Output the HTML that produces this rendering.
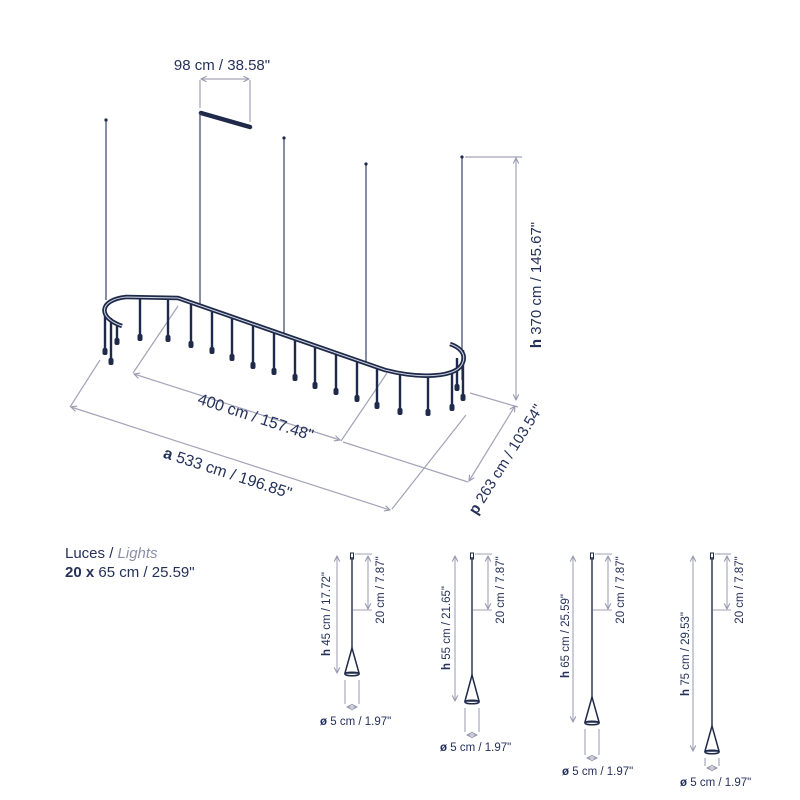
<!DOCTYPE html>
<html><head><meta charset="utf-8"><style>
html,body{margin:0;padding:0;background:#fff;}
svg{display:block;}
text{font-family:"Liberation Sans",sans-serif;fill:#25315a;}
</style></head><body>
<svg width="800" height="800" viewBox="0 0 800 800" xmlns="http://www.w3.org/2000/svg">
<defs>
<marker id="a" viewBox="0 0 10 10" refX="9" refY="5" markerWidth="7" markerHeight="7" orient="auto-start-reverse" markerUnits="userSpaceOnUse">
<path d="M1,1 L9,5 L1,9" fill="none" stroke="#9a9ab0" stroke-width="1.6"/></marker>
</defs>
<g stroke="#a3a3b8" stroke-width="1.2" fill="none">
<line x1="200" y1="80" x2="200" y2="108"/><line x1="250" y1="80" x2="250" y2="122"/>
<line x1="201" y1="79" x2="249" y2="79" marker-start="url(#a)" marker-end="url(#a)"/>
<line x1="465" y1="157" x2="522" y2="157"/>
<line x1="516" y1="158" x2="516" y2="400" marker-start="url(#a)" marker-end="url(#a)"/>
<line x1="178" y1="306" x2="133" y2="373"/><line x1="387" y1="373" x2="341" y2="441"/>
<line x1="134" y1="374" x2="340" y2="440" marker-start="url(#a)" marker-end="url(#a)"/>
<line x1="100" y1="360" x2="70" y2="407"/><line x1="466" y1="415" x2="392" y2="509"/>
<line x1="71" y1="407" x2="390" y2="510" marker-start="url(#a)" marker-end="url(#a)"/>
<line x1="343" y1="442" x2="468" y2="482"/><line x1="470" y1="393" x2="518" y2="407"/>
<line x1="469" y1="481" x2="515" y2="406" marker-start="url(#a)" marker-end="url(#a)"/>
</g>
<line x1="201" y1="113" x2="250" y2="127" stroke="#1f2a4a" stroke-width="4.5" stroke-linecap="round"/>
<g stroke="#3a4466" stroke-width="1.2">
<line x1="106" y1="121" x2="106" y2="300"/><line x1="200" y1="113" x2="200" y2="306"/>
<line x1="284" y1="139" x2="284" y2="335"/><line x1="366" y1="165" x2="366" y2="362"/>
<line x1="462" y1="158" x2="462" y2="380"/>
</g>
<g fill="#1f2a4a"><circle cx="106" cy="120" r="1.6"/><circle cx="284" cy="138" r="1.6"/><circle cx="366" cy="164" r="1.6"/><circle cx="462" cy="157" r="1.6"/></g>
<g stroke="#1f2a4a" stroke-width="2.4">
<line x1="105" y1="312" x2="105" y2="351"/><line x1="111" y1="318" x2="111" y2="361"/><line x1="117" y1="326" x2="117" y2="341"/>
<line x1="140" y1="297" x2="140" y2="337"/><line x1="168" y1="297" x2="168" y2="338"/><line x1="191" y1="303" x2="191" y2="344"/>
<line x1="212" y1="310" x2="212" y2="350"/><line x1="232" y1="317" x2="232" y2="357"/><line x1="253" y1="325" x2="253" y2="365"/>
<line x1="274" y1="332" x2="274" y2="371"/><line x1="295" y1="339" x2="295" y2="377"/><line x1="315" y1="346" x2="315" y2="385"/>
<line x1="336" y1="354" x2="336" y2="391"/><line x1="357" y1="361" x2="357" y2="398"/><line x1="377" y1="368" x2="377" y2="405"/>
<line x1="400" y1="375" x2="400" y2="411"/><line x1="428" y1="376" x2="428" y2="412"/><line x1="452" y1="370" x2="452" y2="407"/>
<line x1="457" y1="358" x2="457" y2="387"/><line x1="463" y1="350" x2="463" y2="397"/>
</g>
<g fill="#1f2a4a">
<rect x="102.5" y="348" width="5" height="7" rx="2"/><rect x="108.5" y="358" width="5" height="7" rx="2"/><rect x="114.5" y="338" width="5" height="7" rx="2"/>
<rect x="137.5" y="334" width="5" height="7" rx="2"/><rect x="165.5" y="335" width="5" height="7" rx="2"/><rect x="188.5" y="341" width="5" height="7" rx="2"/>
<rect x="209.5" y="347" width="5" height="7" rx="2"/><rect x="229.5" y="354" width="5" height="7" rx="2"/><rect x="250.5" y="362" width="5" height="7" rx="2"/>
<rect x="271.5" y="368" width="5" height="7" rx="2"/><rect x="292.5" y="374" width="5" height="7" rx="2"/><rect x="312.5" y="382" width="5" height="7" rx="2"/>
<rect x="333.5" y="388" width="5" height="7" rx="2"/><rect x="354.5" y="395" width="5" height="7" rx="2"/><rect x="374.5" y="402" width="5" height="7" rx="2"/>
<rect x="397.5" y="408" width="5" height="7" rx="2"/><rect x="425.5" y="409" width="5" height="7" rx="2"/><rect x="449.5" y="404" width="5" height="7" rx="2"/>
<rect x="454.5" y="384" width="5" height="7" rx="2"/><rect x="460.5" y="394" width="5" height="7" rx="2"/>
</g>
<path d="M122,326 C98,318 98,300 126,297 L178,298 L385,370 C420,379 458,378 463,362 C466,353 459,347 450,344" fill="none" stroke="#1f2a4a" stroke-width="4.5" stroke-linejoin="round"/>
<path d="M122,326 C98,318 98,300 126,297 L178,298 L385,370 C420,379 458,378 463,362 C466,353 459,347 450,344" fill="none" stroke="#c9cfdd" stroke-width="1.1"/>
<text x="222" y="70" font-size="15" text-anchor="middle">98 cm / 38.58"</text>
<text transform="translate(541,285) rotate(-90)" font-size="15" text-anchor="middle"><tspan font-weight="bold">h</tspan> 370 cm / 145.67"</text>
<text transform="translate(254,422) rotate(18)" font-size="16" text-anchor="middle">400 cm / 157.48"</text>
<text transform="translate(226,478) rotate(18)" font-size="16" text-anchor="middle"><tspan font-weight="bold">a</tspan> 533 cm / 196.85"</text>
<text transform="translate(510,462) rotate(-58)" font-size="15" text-anchor="middle"><tspan font-weight="bold">p</tspan> 263 cm / 103.54"</text>
<text x="65" y="558" font-size="15">Luces / <tspan font-style="italic" fill="#8a90a8">Lights</tspan></text>
<text x="65" y="577" font-size="15"><tspan font-weight="bold">20 x</tspan> 65 cm / 25.59"</text>

<g stroke="#a3a3b8" stroke-width="1.1" fill="none">
<line x1="337" y1="556" x2="337" y2="673" marker-start="url(#a)" marker-end="url(#a)"/>
<line x1="355" y1="554" x2="372" y2="554"/><line x1="353" y1="610" x2="372" y2="610"/>
<line x1="368" y1="556" x2="368" y2="609" marker-start="url(#a)" marker-end="url(#a)"/>
<line x1="345" y1="680" x2="345" y2="704"/><line x1="359" y1="680" x2="359" y2="704"/>
<line x1="347" y1="707" x2="357" y2="707" marker-start="url(#a)" marker-end="url(#a)"/>
</g>
<g stroke="#1f2a4a" fill="none"><line x1="352" y1="557" x2="352" y2="650" stroke-width="1.4"/>
<rect x="350.5" y="553" width="3" height="6" stroke-width="1"/>
<path d="M352,648 L345,673 L359,673 Z" stroke-width="1.5"/><ellipse cx="352" cy="674" rx="7" ry="1.8" stroke-width="1.5"/></g>
<text transform="translate(330,614) rotate(-90)" font-size="11.5" text-anchor="middle"><tspan font-weight="bold">h</tspan> 45 cm / 17.72"</text>
<text transform="translate(384,590) rotate(-90)" font-size="11.5" text-anchor="middle">20 cm / 7.87"</text>
<text x="320" y="725" font-size="11.5"><tspan font-weight="bold">ø</tspan> 5 cm / 1.97"</text>

<g stroke="#a3a3b8" stroke-width="1.1" fill="none">
<line x1="455" y1="556" x2="455" y2="701" marker-start="url(#a)" marker-end="url(#a)"/>
<line x1="475" y1="554" x2="492" y2="554"/><line x1="473" y1="610" x2="492" y2="610"/>
<line x1="488" y1="556" x2="488" y2="609" marker-start="url(#a)" marker-end="url(#a)"/>
<line x1="465" y1="708" x2="465" y2="732"/><line x1="479" y1="708" x2="479" y2="732"/>
<line x1="467" y1="735" x2="477" y2="735" marker-start="url(#a)" marker-end="url(#a)"/>
</g>
<g stroke="#1f2a4a" fill="none"><line x1="472" y1="557" x2="472" y2="677" stroke-width="1.4"/>
<rect x="470.5" y="553" width="3" height="6" stroke-width="1"/>
<path d="M472,675 L465,701 L479,701 Z" stroke-width="1.5"/><ellipse cx="472" cy="702" rx="7" ry="1.8" stroke-width="1.5"/></g>
<text transform="translate(450,628) rotate(-90)" font-size="11.5" text-anchor="middle"><tspan font-weight="bold">h</tspan> 55 cm / 21.65"</text>
<text transform="translate(504,590) rotate(-90)" font-size="11.5" text-anchor="middle">20 cm / 7.87"</text>
<text x="440" y="751" font-size="11.5"><tspan font-weight="bold">ø</tspan> 5 cm / 1.97"</text>

<g stroke="#a3a3b8" stroke-width="1.1" fill="none">
<line x1="573" y1="556" x2="573" y2="722" marker-start="url(#a)" marker-end="url(#a)"/>
<line x1="595" y1="554" x2="612" y2="554"/><line x1="593" y1="610" x2="612" y2="610"/>
<line x1="608" y1="556" x2="608" y2="609" marker-start="url(#a)" marker-end="url(#a)"/>
<line x1="585" y1="729" x2="585" y2="755"/><line x1="599" y1="729" x2="599" y2="755"/>
<line x1="587" y1="758" x2="597" y2="758" marker-start="url(#a)" marker-end="url(#a)"/>
</g>
<g stroke="#1f2a4a" fill="none"><line x1="592" y1="557" x2="592" y2="699" stroke-width="1.4"/>
<rect x="590.5" y="553" width="3" height="6" stroke-width="1"/>
<path d="M592,697 L585,722 L599,722 Z" stroke-width="1.5"/><ellipse cx="592" cy="723" rx="7" ry="1.8" stroke-width="1.5"/></g>
<text transform="translate(569,636) rotate(-90)" font-size="11.5" text-anchor="middle"><tspan font-weight="bold">h</tspan> 65 cm / 25.59"</text>
<text transform="translate(624,590) rotate(-90)" font-size="11.5" text-anchor="middle">20 cm / 7.87"</text>
<text x="562" y="775" font-size="11.5"><tspan font-weight="bold">ø</tspan> 5 cm / 1.97"</text>

<g stroke="#a3a3b8" stroke-width="1.1" fill="none">
<line x1="693" y1="556" x2="693" y2="751" marker-start="url(#a)" marker-end="url(#a)"/>
<line x1="715" y1="554" x2="731" y2="554"/><line x1="713" y1="610" x2="731" y2="610"/>
<line x1="727" y1="556" x2="727" y2="609" marker-start="url(#a)" marker-end="url(#a)"/>
<line x1="705" y1="758" x2="705" y2="766"/><line x1="719" y1="758" x2="719" y2="766"/>
<line x1="707" y1="768" x2="717" y2="768" marker-start="url(#a)" marker-end="url(#a)"/>
</g>
<g stroke="#1f2a4a" fill="none"><line x1="712" y1="557" x2="712" y2="728" stroke-width="1.4"/>
<rect x="710.5" y="553" width="3" height="6" stroke-width="1"/>
<path d="M712,726 L705,751 L719,751 Z" stroke-width="1.5"/><ellipse cx="712" cy="752" rx="7" ry="1.8" stroke-width="1.5"/></g>
<text transform="translate(689,654) rotate(-90)" font-size="11.5" text-anchor="middle"><tspan font-weight="bold">h</tspan> 75 cm / 29.53"</text>
<text transform="translate(743,590) rotate(-90)" font-size="11.5" text-anchor="middle">20 cm / 7.87"</text>
<text x="680" y="786" font-size="11.5"><tspan font-weight="bold">ø</tspan> 5 cm / 1.97"</text>
</svg>
</body></html>
